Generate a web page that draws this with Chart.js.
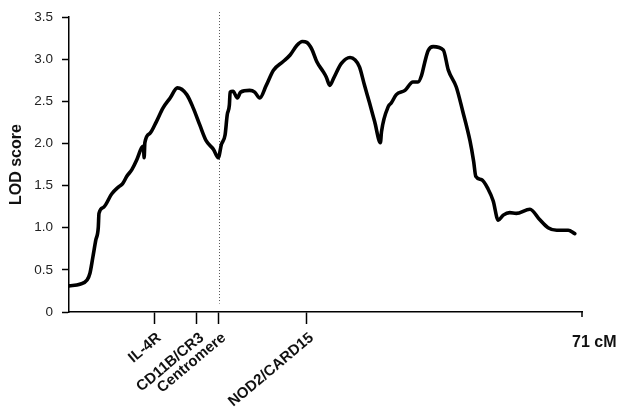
<!DOCTYPE html>
<html>
<head>
<meta charset="utf-8">
<script src="https://cdn.jsdelivr.net/npm/chart.js@4/dist/chart.umd.min.js"></script>
<style>
  html, body { margin: 0; padding: 0; background: #fff; }
  #wrap { width: 620px; height: 414px; position: relative; }
</style>
</head>
<body>
<div id="wrap"><canvas id="c" width="620" height="414"></canvas></div>
<script>
// Map position along the chromosome (cM) and multipoint LOD score
const positionCM = [0, 1.5, 2.5, 2.9, 3.3, 3.7, 4.05, 4.15, 4.75, 5.9,
  6.8, 7.4, 8.0, 8.7, 9.35, 10.05, 10.3, 10.4, 10.5, 11.2,
  12.1, 13.0, 14.0, 15.0, 16.3, 17.2, 18.1, 19.0, 20.0, 20.65,
  21.1, 21.6, 21.9, 22.2, 22.3, 22.7, 23.3, 23.75, 25.0, 25.7,
  26.4, 27.3, 28.3, 29.6, 30.6, 31.5, 32.3, 32.9, 33.6, 34.3,
  35.2, 35.6, 36.1, 36.6, 37.7, 38.9, 39.6, 40.2, 40.9, 41.6,
  42.3, 43.1, 43.25, 44.2, 44.6, 45.3, 46.5, 47.6, 48.3, 48.8,
  49.2, 49.7, 50.4, 51.8, 52.5, 53.6, 54.5, 55.5, 56.0, 56.3,
  57.1, 58.0, 58.7, 59.4, 60.1, 61.0, 61.9, 63.8, 65.1, 66.3,
  67.5, 69.1, 70.0];
const lodScore = [0.31, 0.33, 0.38, 0.46, 0.65, 0.85, 1.00, 1.17, 1.24, 1.40,
  1.48, 1.52, 1.61, 1.69, 1.80, 1.95, 1.97, 1.83, 2.01, 2.12,
  2.26, 2.42, 2.54, 2.66, 2.58, 2.42, 2.22, 2.03, 1.93, 1.83,
  1.99, 2.10, 2.34, 2.46, 2.61, 2.62, 2.54, 2.61, 2.63, 2.61,
  2.54, 2.69, 2.87, 2.97, 3.05, 3.16, 3.21, 3.20, 3.12, 2.97,
  2.85, 2.79, 2.69, 2.77, 2.95, 3.02, 2.99, 2.91, 2.69, 2.48,
  2.26, 2.01, 2.14, 2.44, 2.48, 2.58, 2.63, 2.73, 2.73, 2.81,
  2.95, 3.10, 3.15, 3.11, 2.87, 2.67, 2.38, 2.03, 1.79, 1.61,
  1.57, 1.46, 1.32, 1.09, 1.15, 1.18, 1.17, 1.22, 1.10, 1.00,
  0.97, 0.97, 0.93];

// Marker loci shown on the map axis
const markerPositions = [11.8, 17.7, 20.75, 32.9];
const markerNames = ['IL-4R', 'CD11B/CR3', 'Centromere', 'NOD2/CARD15'];
const mapLength = 71;
const mapEndLabel = '71 cM';
const centromerePos = 20.75;

const FONT = '"Liberation Sans", Arial, Helvetica, sans-serif';

const points = positionCM.map((x, i) => ({ x: x, y: lodScore[i] }));

// Dotted centromere line, short end tick and the map length label
const annotations = {
  id: 'annotations',
  beforeDatasetsDraw(chart) {
    const { ctx, scales: { x, y } } = chart;
    const px = Math.round(x.getPixelForValue(centromerePos)) + 0.5;
    ctx.save();
    ctx.strokeStyle = '#555';
    ctx.lineWidth = 1;
    ctx.setLineDash([1, 2]);
    ctx.beginPath();
    ctx.moveTo(px, y.getPixelForValue(3.56));
    ctx.lineTo(px, y.getPixelForValue(0.1));
    ctx.stroke();
    ctx.restore();
  },
  afterDraw(chart) {
    const { ctx, scales: { x, y } } = chart;
    const ex = x.getPixelForValue(mapLength);
    const by = y.getPixelForValue(0);
    ctx.save();
    ctx.strokeStyle = '#000';
    ctx.lineWidth = 1.5;
    ctx.beginPath();
    ctx.moveTo(ex, by);
    ctx.lineTo(ex, by + 5);
    ctx.stroke();
    ctx.fillStyle = '#111';
    ctx.font = 'bold 16px ' + FONT;
    ctx.textAlign = 'left';
    ctx.textBaseline = 'middle';
    ctx.fillText(mapEndLabel, ex - 10, by + 31);
    ctx.restore();
  }
};

new Chart(document.getElementById('c'), {
  type: 'line',
  data: {
    datasets: [{
      data: points,
      borderColor: '#000',
      borderWidth: 3.6,
      borderJoinStyle: 'round',
      borderCapStyle: 'round',
      pointRadius: 0,
      fill: false,
      cubicInterpolationMode: 'monotone'
    }]
  },
  options: {
    responsive: false,
    animation: false,
    layout: { padding: { left: 0, right: 38, top: 15, bottom: 0 } },
    plugins: { legend: { display: false }, tooltip: { enabled: false } },
    scales: {
      x: {
        type: 'linear',
        min: 0,
        max: mapLength,
        afterFit(scale) { scale.height = 102; },
        afterBuildTicks(scale) {
          scale.ticks = markerPositions.map(v => ({ value: v }));
        },
        border: { display: true, color: '#000', width: 1.5 },
        grid: {
          drawOnChartArea: false,
          drawTicks: true,
          tickLength: 12,
          tickColor: '#000',
          tickWidth: 1.5
        },
        ticks: {
          autoSkip: false,
          minRotation: 40,
          maxRotation: 40,
          padding: 5,
          labelOffset: 5,
          color: '#111',
          font: { family: FONT, size: 15, weight: 'bold' },
          callback(value) {
            const i = markerPositions.indexOf(value);
            return i >= 0 ? markerNames[i] : '';
          }
        }
      },
      y: {
        min: 0,
        max: 3.5,
        afterFit(scale) { scale.width = 69; },
        border: { display: true, color: '#000', width: 1.5 },
        grid: {
          drawOnChartArea: false,
          drawTicks: true,
          tickLength: 7,
          tickColor: '#000',
          tickWidth: 1.5
        },
        ticks: {
          stepSize: 0.5,
          padding: 9,
          color: '#222',
          font: { family: FONT, size: 13.5 },
          callback(v) { return v === 0 ? '0' : v.toFixed(1); }
        },
        title: {
          display: true,
          text: 'LOD score',
          color: '#111',
          padding: { top: 7, bottom: 0 },
          font: { family: FONT, size: 16, weight: 'bold' }
        }
      }
    }
  },
  plugins: [annotations]
});
</script>
</body>
</html>
